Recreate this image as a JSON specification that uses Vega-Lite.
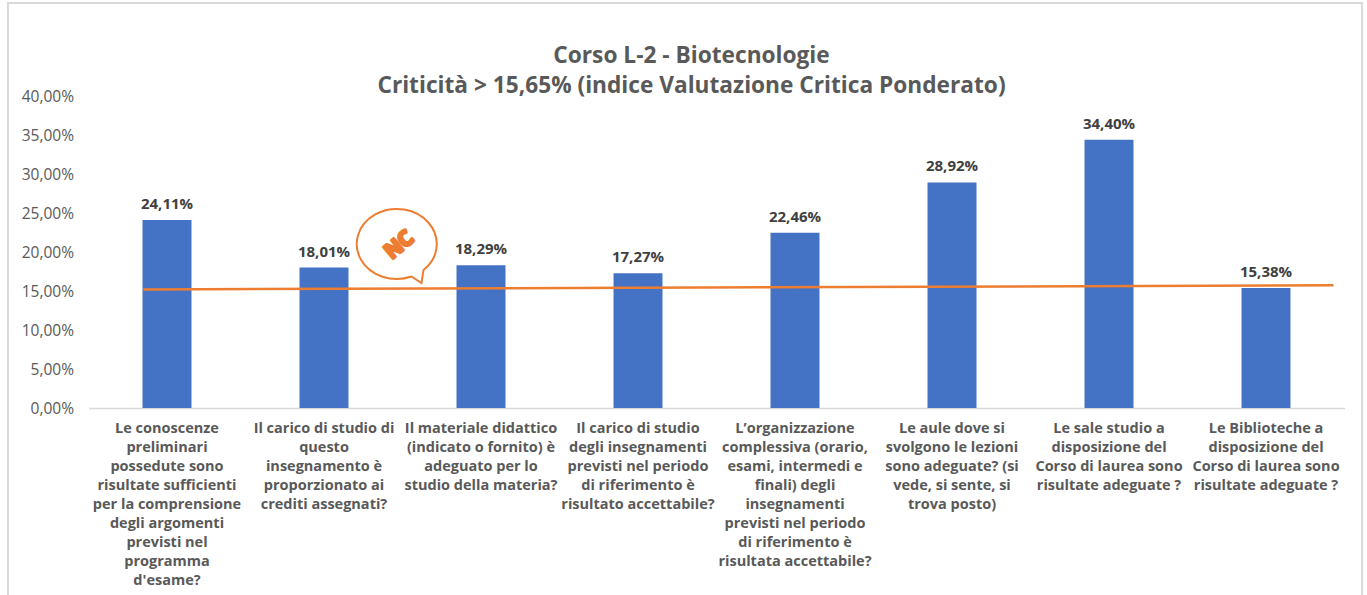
{
"$schema":"https://vega.github.io/schema/vega-lite/v6.json",
"width":1256,"height":312,
"autosize":{"type":"none"},
"padding":{"left":88.5,"top":96,"right":22.5,"bottom":187},
"background":"white",
"config":{"view":{"stroke":null},"axisY":{"tickCount":8,"format":".2%","grid":false,"domain":false,"ticks":false,"labelOverlap":false,"labelFont":"Open Sans","labelFontSize":15.5,"labelColor":"#595959","labelPadding":15,"title":null},"locale":{"number":{"decimal":",","thousands":".","grouping":[3],"currency":["","€"]}}},
"title":{"text":["Corso L-2 - Biotecnologie","Criticità > 15,65% (indice Valutazione Critica Ponderato)"],"anchor":"middle","frame":"group","dx":-25,"dy":106,"offset":10,"font":"Open Sans","fontWeight":"bold","fontSize":22.7,"lineHeight":30,"color":"#595959"},
"datasets":{
"bars":[
{"domanda":"Le conoscenze|preliminari|possedute sono|risultate sufficienti|per la comprensione|degli argomenti|previsti nel|programma|d'esame?","value":0.2411},
{"domanda":"Il carico di studio di|questo|insegnamento è|proporzionato ai|crediti assegnati?","value":0.1801},
{"domanda":"Il materiale didattico|(indicato o fornito) è|adeguato per lo|studio della materia?","value":0.1829},
{"domanda":"Il carico di studio|degli insegnamenti|previsti nel periodo|di riferimento è|risultato accettabile?","value":0.1727},
{"domanda":"L’organizzazione|complessiva (orario,|esami, intermedi e|finali) degli|insegnamenti|previsti nel periodo|di riferimento è|risultata accettabile?","value":0.2246},
{"domanda":"Le aule dove si|svolgono le lezioni|sono adeguate? (si|vede, si sente, si|trova posto)","value":0.2892},
{"domanda":"Le sale studio a|disposizione del|Corso di laurea sono|risultate adeguate ?","value":0.344},
{"domanda":"Le Biblioteche a|disposizione del|Corso di laurea sono|risultate adeguate ?","value":0.1538}
],
"soglia":[{"pos":-0.15,"value":0.152},{"pos":7.43,"value":0.1573}],
"fumetto":[{"pos":1.519,"value":0.2115,"sigla":"NC"}],
"cornice":[{"x0":-1.013,"x1":7.612,"y0":0.5192,"y1":-0.246}]
},
"layer":[
{"data":{"name":"cornice"},
 "mark":{"type":"rect","fill":null,"filled":false,"stroke":"#D9D9D9","strokeWidth":2},
 "encoding":{
  "x":{"field":"x0","type":"quantitative","scale":{"domain":[-0.5,7.5]},"axis":null},
  "x2":{"field":"x1"},
  "y":{"field":"y0","type":"quantitative","scale":{"domain":[0,0.4]},"title":null},
  "y2":{"field":"y1"}}},
{"data":{"name":"bars"},
 "mark":{"type":"bar","color":"#4472C4"},
 "encoding":{
  "x":{"field":"domanda","type":"nominal","sort":null,"scale":{"paddingInner":0.688,"paddingOuter":0.344},"title":null,
    "axis":{"labelExpr":"split(datum.label,'|')","labelAngle":0,"labelAlign":"center","labelBaseline":"top","labelFont":"Open Sans","labelFontWeight":"bold","labelFontSize":14.5,"labelLineHeight":19,"labelColor":"#595959","labelPadding":13,"labelLimit":0,"labelOverlap":false,"ticks":false,"domain":true,"domainColor":"#D9D9D9","domainWidth":1.5,"grid":false}},
  "y":{"field":"value","type":"quantitative","title":null}}},
{"data":{"name":"bars"},
 "mark":{"type":"text","font":"Open Sans","fontWeight":"bold","fontSize":15,"color":"#404040","baseline":"bottom","dy":-8},
 "encoding":{
  "x":{"field":"domanda","type":"nominal","sort":null,"scale":{"paddingInner":0.688,"paddingOuter":0.344},"axis":null},
  "y":{"field":"value","type":"quantitative","title":null},
  "text":{"field":"value","type":"quantitative","format":".2%"}}},
{"data":{"name":"soglia"},
 "mark":{"type":"line","color":"#ED7D31","strokeWidth":2.5},
 "encoding":{
  "x":{"field":"pos","type":"quantitative","scale":{"domain":[-0.5,7.5]},"axis":null},
  "y":{"field":"value","type":"quantitative","title":null}}},
{"data":{"name":"fumetto"},
 "mark":{"type":"point","filled":false,"stroke":"#ED7D31","strokeWidth":2,"size":4,"opacity":1,
   "shape":"M6,33.5 L16,40 L18,27 A40,35 0 1 0 6,33.5 Z"},
 "encoding":{
  "x":{"field":"pos","type":"quantitative","scale":{"domain":[-0.5,7.5]},"axis":null},
  "y":{"field":"value","type":"quantitative","title":null}}},
{"data":{"name":"fumetto"},
 "mark":{"type":"text","font":"Open Sans","fontWeight":"bold","fontSize":21,"color":"#ED7D31","stroke":"#ED7D31","strokeWidth":3,"strokeJoin":"round","angle":-40,"align":"center","baseline":"middle","dx":-6,"dy":-2},
 "encoding":{
  "x":{"field":"pos","type":"quantitative","scale":{"domain":[-0.5,7.5]},"axis":null},
  "y":{"field":"value","type":"quantitative","title":null},
  "text":{"field":"sigla","type":"nominal"}}}
],
"resolve":{"scale":{"x":"independent"}}
}
